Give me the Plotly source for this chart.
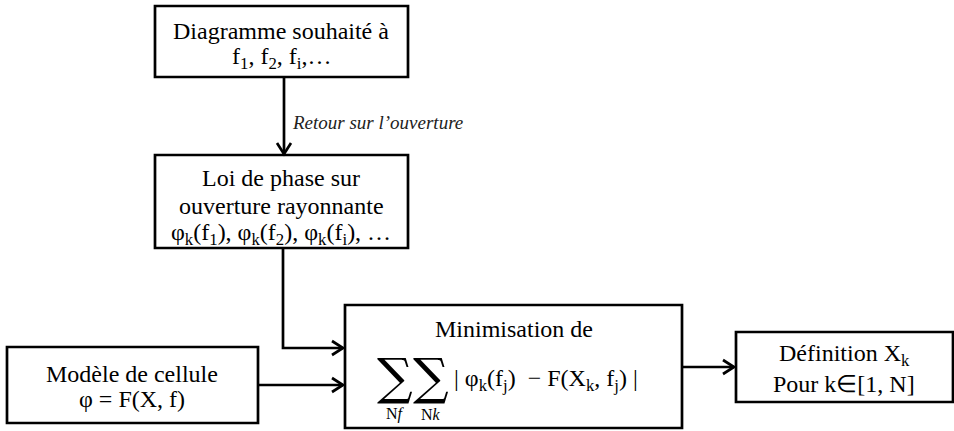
import plotly.graph_objects as go

# ---- content (texts of the flowchart, one list per box, one entry per line) ----
box1_lines = ["Diagramme souhaité à", "f<sub>1</sub>, f<sub>2</sub>, f<sub>i</sub>,…"]
box2_lines = ["Loi de phase sur", "ouverture rayonnante",
              "φ<sub>k</sub>(f<sub>1</sub>), φ<sub>k</sub>(f<sub>2</sub>), φ<sub>k</sub>(f<sub>i</sub>), …"]
box3_lines = ["Modèle de cellule", "φ = F(X, f)"]
box4_lines = ["Minimisation de"]
box5_lines = ["Définition X<sub>k</sub>", "Pour k∈[1, N]"]
edge_label = "<i>Retour sur l’ouverture</i>"
sum_symbol = "∑"
sum_indices = ["N<i>f</i>", "N<i>k</i>"]
criterion = "| φ<sub>k</sub>(f<sub>j</sub>)  − F(X<sub>k</sub>, f<sub>j</sub>) |"

FONT = "Liberation Serif"
LW = 2.7

fig = go.Figure()
fig.add_trace(go.Scatter(x=[0, 954], y=[0, 431], mode="markers",
                         marker=dict(opacity=0), hoverinfo="skip", showlegend=False))

# boxes: (x0, y0, x1, y1)
boxes = [(155, 6, 408, 77), (155, 155, 408, 248), (7, 347, 258, 423),
         (345, 305, 682, 428), (736, 332, 953, 402)]
for (x0, y0, x1, y1) in boxes:
    fig.add_shape(type="rect", x0=x0, y0=y0, x1=x1, y1=y1,
                  line=dict(color="black", width=LW), fillcolor="white", layer="below")

# connectors (polylines ending with an arrow)
connectors = [
    [(284, 77), (284, 154)],
    [(283, 248), (283, 348), (343, 348)],
    [(258, 385), (343, 385)],
    [(682, 367), (734, 367)],
]
for pts in connectors:
    path = "M " + " L ".join(f"{x},{y}" for x, y in pts)
    fig.add_shape(type="path", path=path, line=dict(color="black", width=LW))
    (xa, ya), (xb, yb) = pts[-2], pts[-1]
    if xa == xb:  # vertical downward
        head = f"M {xb-7},{yb-11} L {xb},{yb} L {xb+7},{yb-11}"
    else:  # horizontal rightward
        head = f"M {xb-11},{yb-7} L {xb},{yb} L {xb-11},{yb+7}"
    fig.add_shape(type="path", path=head, line=dict(color="black", width=LW))

# box texts: centre x and line centre y's
placements = [
    (box1_lines, 281, [31, 58]),
    (box2_lines, 281, [178, 206, 234]),
    (box3_lines, 132, [374, 399]),
    (box4_lines, 514, [329]),
    (box5_lines, 844, [355, 384]),
]
for lines, x, ys in placements:
    for t, y in zip(lines, ys):
        fig.add_annotation(x=x, y=y, text=t, showarrow=False,
                           font=dict(family=FONT, size=24, color="black"),
                           xanchor="center", yanchor="middle")

fig.add_annotation(x=290, y=122, text=edge_label, showarrow=False,
                   font=dict(family=FONT, size=19, color="#222"),
                   xanchor="left", yanchor="middle")

# sums
for xs, idx in zip([395, 431], sum_indices):
    fig.add_annotation(x=xs, y=377, text=sum_symbol, showarrow=False,
                       font=dict(family="DejaVu Serif", size=50, color="black"),
                       xanchor="center", yanchor="middle")
    fig.add_annotation(x=xs, y=414, text=idx, showarrow=False,
                       font=dict(family=FONT, size=16, color="black"),
                       xanchor="center", yanchor="middle")
fig.add_annotation(x=452, y=380, text=criterion, showarrow=False,
                   font=dict(family=FONT, size=24, color="black"),
                   xanchor="left", yanchor="middle")

fig.update_xaxes(range=[0, 954], visible=False, fixedrange=True)
fig.update_yaxes(range=[431, 0], visible=False, fixedrange=True)
fig.update_layout(width=954, height=431, margin=dict(l=0, r=0, t=0, b=0),
                  plot_bgcolor="white", paper_bgcolor="white", showlegend=False)

fig.write_html("out.html", config={"displayModeBar": False},
               post_script="document.body.style.margin='0';document.body.style.overflow='hidden';")
